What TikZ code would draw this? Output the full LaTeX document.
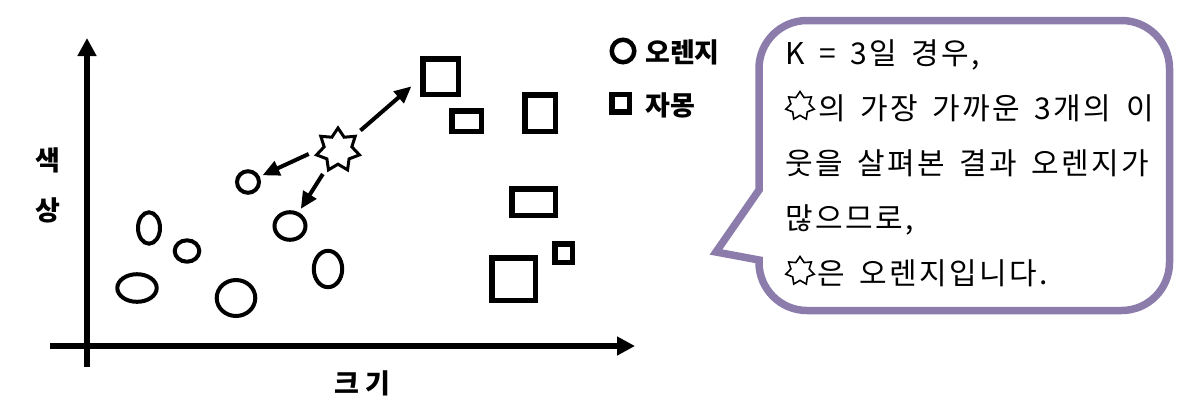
\documentclass[tikz,border=0pt]{standalone}
\usepackage{fontspec}
\setmainfont{Noto Sans CJK KR}
\newfontfamily\bubblefont[LetterSpace=8,WordSpace=1.6]{Noto Sans CJK KR}
\usetikzlibrary{arrows.meta,shapes.geometric}
\definecolor{bubblecol}{RGB}{140,124,172}
\begin{document}
\begin{tikzpicture}[x=1pt,y=-1pt,
  oval/.style={ellipse,draw,line width=4pt,inner sep=0pt,outer sep=0pt},
  box/.style={rectangle,draw,line width=5.5pt,inner sep=0pt,outer sep=0pt},
  axis/.style={line width=5.5pt,-{Triangle[length=18pt,width=18pt]}},
  nbr/.style={line width=4pt,-{Triangle[length=17pt,width=15pt]}},
  lbl/.style={font=\fontsize{27}{27}\selectfont\bfseries,inner sep=0pt},
  legtxt/.style={font=\fontsize{27}{27}\selectfont\bfseries,inner sep=0pt,anchor=base west},
  bubtxt/.style={font=\bubblefont\fontsize{30}{30}\selectfont,inner sep=0pt,anchor=base west},
  query/.style={star,star points=7,star point ratio=1.55,draw,inner sep=0pt,outer sep=0pt}
]
\useasboundingbox (0,0) rectangle (1201,413);
% axes
\coordinate (yb) at (87,367); \coordinate (yt) at (87,38);
\coordinate (xl) at (50,346); \coordinate (xr) at (635,346);
\draw[axis] (yb) -- (yt);
\draw[axis] (xl) -- (xr);
\node[lbl] (yl1) at (48,160) {색};
\node[lbl] (yl2) at (48,210) {상};
\node[lbl] (xlab) at (362,383) {크 기};
% oranges
\node[oval,minimum width=22pt,minimum height=31.4pt] (c1) at (149,228) {};
\node[oval,minimum width=24.6pt,minimum height=21.4pt] (c2) at (187,251) {};
\node[oval,minimum width=39.4pt,minimum height=27.6pt] (c3) at (137,288) {};
\node[oval,minimum width=38.6pt,minimum height=36pt] (c4) at (236,298) {};
\node[oval,minimum width=22pt,minimum height=21.6pt] (c5) at (248,182) {};
\node[oval,minimum width=31pt,minimum height=27.6pt] (c6) at (290,226) {};
\node[oval,minimum width=28.4pt,minimum height=36.4pt] (c7) at (328,269) {};
% grapefruits
\node[box,minimum width=35.5pt,minimum height=35.5pt] (s1) at (440.5,76.5) {};
\node[box,minimum width=29.5pt,minimum height=20.5pt] (s2) at (466.5,121) {};
\node[box,minimum width=30.5pt,minimum height=36.5pt] (s3) at (540,113) {};
\node[box,minimum width=43.5pt,minimum height=26.5pt] (s4) at (533.5,202) {};
\node[box,minimum width=17.5pt,minimum height=18.5pt] (s5) at (563.5,253) {};
\node[box,minimum width=43.5pt,minimum height=42.5pt] (s6) at (513.5,279) {};
% query
\node[query,line width=3pt,minimum size=44pt] (q) at (338,150) {};
\draw[nbr,shorten <=9pt,shorten >=15pt] (q) -- (s1.west);
\draw[nbr,shorten <=17pt,shorten >=5pt] (q.inner point 2) -- (c5);
\draw[nbr,shorten <=9.5pt,shorten >=6pt] (q) -- (c6);
% legend
\node[oval,line width=4.5pt,minimum width=22.5pt,minimum height=22.5pt] (lc) at (623,51) {};
\node[box,minimum width=17.5pt,minimum height=17.5pt] (ls) at (620.5,103) {};
\node[legtxt] (lct) at (645,62) {오렌지};
\node[legtxt] (lst) at (645,115) {자몽};
% bubble
\draw[bubblecol,line width=7.5pt,line join=miter]
  (759,190) -- (759,68.5)
  .. controls (759,41.99) and (780.49,20.5) .. (807,20.5)
  -- (1121.5,20.5)
  .. controls (1148.01,20.5) and (1169.5,41.99) .. (1169.5,68.5)
  -- (1169.5,262.5)
  .. controls (1169.5,289.01) and (1148.01,310.5) .. (1121.5,310.5)
  -- (807,310.5)
  .. controls (780.49,310.5) and (759,289.01) .. (759,262.5)
  -- (759,260) -- (716,252) -- cycle;
\node[bubtxt] (t1) at (785,64) {K = 3일 경우,};
\node[query,line width=1.6pt,minimum size=29pt] (qs1) at (800,106) {};
\node[bubtxt] (t2) at (818,119) {의 가장 가까운 3개의 이};
\node[bubtxt] (t3) at (785,174) {웃을 살펴본 결과 오렌지가};
\node[bubtxt] (t4) at (785,229) {많으므로,};
\node[query,line width=1.6pt,minimum size=29pt] (qs2) at (800,271) {};
\node[bubtxt] (t5) at (817,284) {은 오렌지입니다.};
\end{tikzpicture}
\end{document}
